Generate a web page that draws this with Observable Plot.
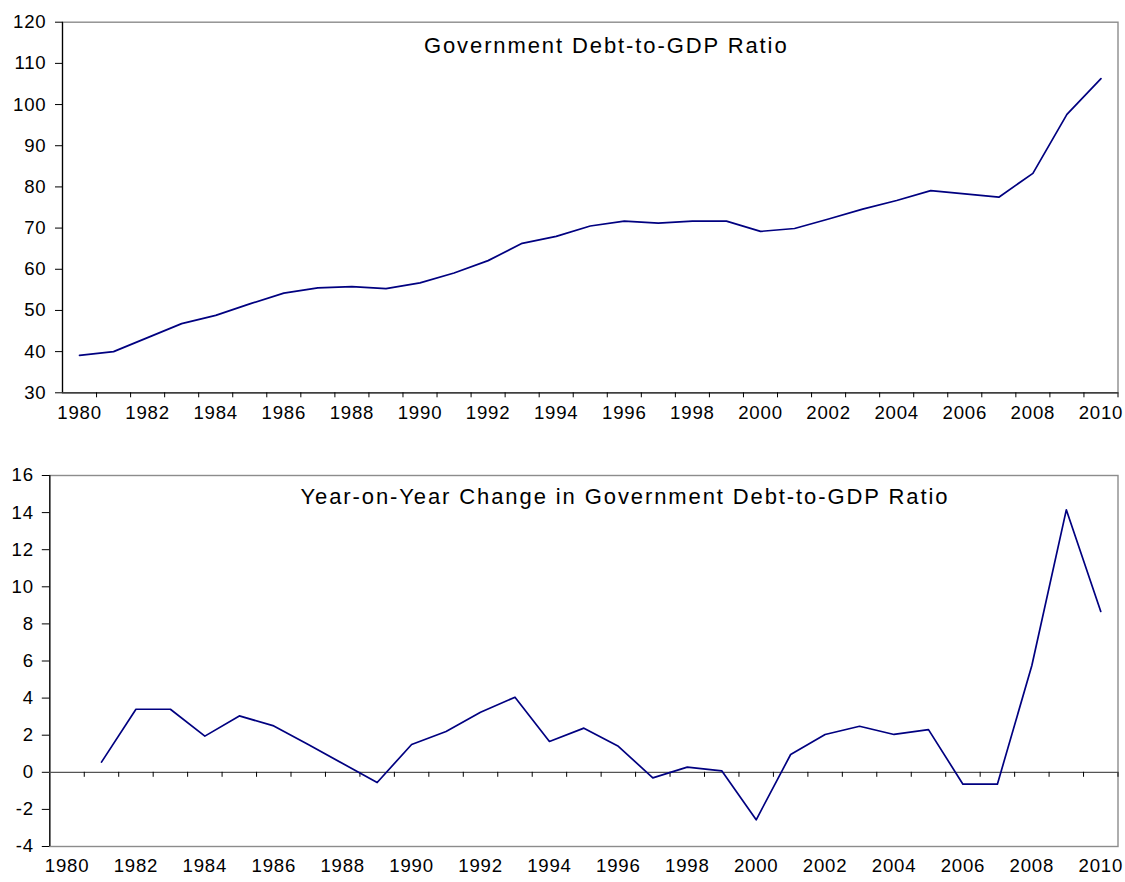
<!DOCTYPE html>
<html>
<head>
<meta charset="utf-8">
<script src="https://cdn.jsdelivr.net/npm/d3@7"></script>
<script src="https://cdn.jsdelivr.net/npm/@observablehq/plot@0.6"></script>
<style>
  html, body { margin: 0; padding: 0; background: #fff; }
  #chart svg { display: block; }
</style>
</head>
<body>
<div id="chart"></div>
<script>
// ---- data ----
const years = [1980, 1981, 1982, 1983, 1984, 1985, 1986, 1987, 1988, 1989,
               1990, 1991, 1992, 1993, 1994, 1995, 1996, 1997, 1998, 1999,
               2000, 2001, 2002, 2003, 2004, 2005, 2006, 2007, 2008, 2009, 2010];
const debtRatio = [39.1, 40.0, 43.4, 46.8, 48.8, 51.6, 54.2, 55.5, 55.8, 55.3,
                   56.7, 59.1, 62.1, 66.3, 68.0, 70.5, 71.7, 71.2, 71.7, 71.7,
                   69.2, 69.9, 72.2, 74.6, 76.7, 79.1, 78.3, 77.5, 83.3, 97.6, 106.3];
const changeYears = [1981, 1982, 1983, 1984, 1985, 1986, 1987, 1988, 1989,
                     1990, 1991, 1992, 1993, 1994, 1995, 1996, 1997, 1998, 1999,
                     2000, 2001, 2002, 2003, 2004, 2005, 2006, 2007, 2008, 2009, 2010];
const yoyChange = [0.55, 3.4, 3.4, 1.95, 3.04, 2.5, 1.5, 0.47, -0.55,
                   1.5, 2.2, 3.24, 4.05, 1.66, 2.38, 1.4, -0.3, 0.28, 0.08,
                   -2.56, 0.96, 2.04, 2.48, 2.04, 2.3, -0.64, -0.64, 5.76, 14.15, 8.67];
const xTickLabels = [1980, 1982, 1984, 1986, 1988, 1990, 1992, 1994, 1996, 1998,
                     2000, 2002, 2004, 2006, 2008, 2010];
const yTicksTop = [30, 40, 50, 60, 70, 80, 90, 100, 110, 120];
const yTicksBottom = [-4, -2, 0, 2, 4, 6, 8, 10, 12, 14, 16];
const titleTop = "Government Debt-to-GDP Ratio";
const titleBottom = "Year-on-Year Change in Government Debt-to-GDP Ratio";

// ---- derived ----
const xDomain = [years[0] - 0.5, years[years.length - 1] + 0.5];
const boundaries = years.slice(1).map(y => y - 0.5).concat([xDomain[1]]);
const topData = years.map((yr, i) => ({year: yr, value: debtRatio[i]}));
const bottomData = changeYears.map((yr, i) => ({year: yr, value: yoyChange[i]}));

const FONT = "'Liberation Sans', Arial, Helvetica, sans-serif";
const LINE = "#000080";
const FRAME = "#8c8c8c";

function baseStyle() {
  return {fontFamily: FONT, fontSize: "18.6px", color: "#000", background: "#fff", overflow: "visible"};
}

const topChart = Plot.plot({
  width: 1125, height: 440,
  marginLeft: 62, marginRight: 7.5, marginTop: 21.7, marginBottom: 47.7,
  x: {domain: xDomain, axis: null},
  y: {domain: [yTicksTop[0], yTicksTop[yTicksTop.length - 1]], axis: null},
  style: baseStyle(),
  marks: [
    Plot.frame({stroke: FRAME, strokeWidth: 1.4}),
    Plot.axisY({ticks: yTicksTop, tickSize: 7, tickPadding: 9, label: null, tickFormat: d => String(d), stroke: "#000"}),
    Plot.ruleX([xDomain[0]], {stroke: "#000", strokeWidth: 1.2}),
    Plot.ruleY([yTicksTop[0]], {stroke: "#222", strokeWidth: 1.2}),
    Plot.ruleX(boundaries, {y1: yTicksTop[0], y2: yTicksTop[0], insetBottom: -5, stroke: "#000", strokeWidth: 1}),
    Plot.text(xTickLabels, {x: d => d, text: d => String(d), frameAnchor: "bottom", dy: 26, fontSize: 18.6, fill: "#000"}),
    Plot.lineY(topData, {x: "year", y: "value", stroke: LINE, strokeWidth: 1.7}),
    Plot.text([titleTop], {frameAnchor: "top", dx: 16, dy: 30.8, lineAnchor: "bottom", fontSize: 22, fill: "#000"})
  ]
});

const bottomChart = Plot.plot({
  width: 1125, height: 442,
  marginLeft: 49.3, marginRight: 7.5, marginTop: 35, marginBottom: 36,
  x: {domain: xDomain, axis: null},
  y: {domain: [yTicksBottom[0], yTicksBottom[yTicksBottom.length - 1]], axis: null},
  style: baseStyle(),
  marks: [
    Plot.frame({stroke: FRAME, strokeWidth: 1.4}),
    Plot.axisY({ticks: yTicksBottom, tickSize: 7.5, tickPadding: 8.5, label: null, tickFormat: d => String(d), stroke: "#000"}),
    Plot.ruleX([xDomain[0]], {stroke: "#000", strokeWidth: 1.2}),
    Plot.ruleY([0], {stroke: "#555", strokeWidth: 1.2}),
    Plot.ruleX(boundaries, {y1: 0, y2: 0, insetBottom: -5, stroke: "#000", strokeWidth: 1}),
    Plot.text(xTickLabels, {x: d => d, text: d => String(d), frameAnchor: "bottom", dy: 25.7, fontSize: 18.6, fill: "#000"}),
    Plot.lineY(bottomData, {x: "year", y: "value", stroke: LINE, strokeWidth: 1.7}),
    Plot.text([titleBottom], {frameAnchor: "top", dx: 41, dy: 28.3, lineAnchor: "bottom", fontSize: 22, fill: "#000"})
  ]
});

const root = document.getElementById("chart");
root.appendChild(topChart);
root.appendChild(bottomChart);

// spacing tweaks to match the stretched lettering of the original
d3.selectAll("#chart text").style("letter-spacing", "0.8px");
d3.selectAll("#chart text")
  .filter(function () { return this.textContent === titleTop || this.textContent === titleBottom; })
  .style("letter-spacing", "1.9px");
</script>
</body>
</html>
